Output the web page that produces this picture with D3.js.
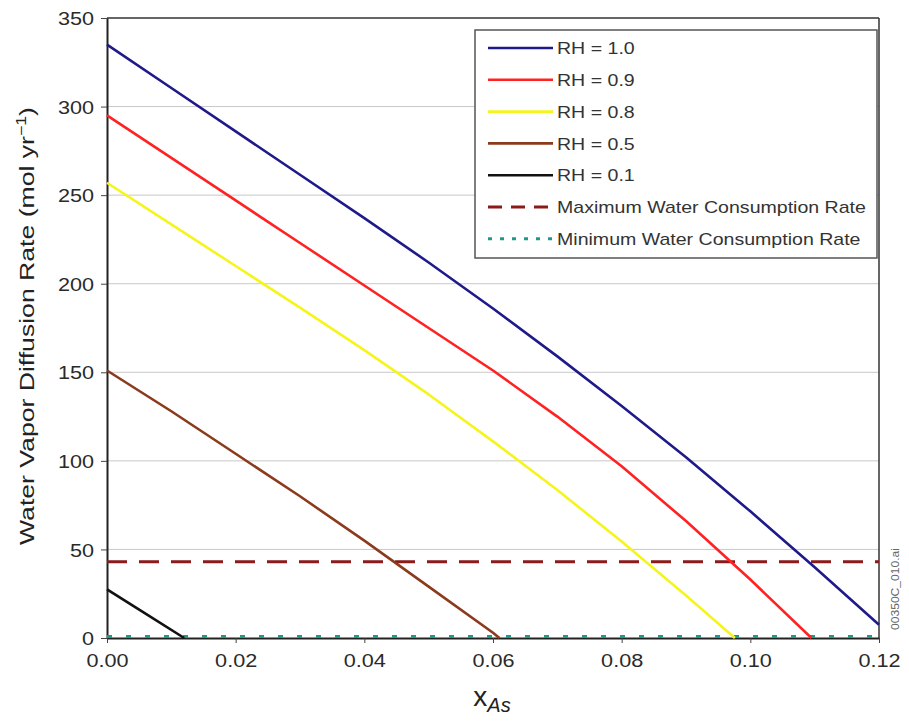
<!DOCTYPE html>
<html><head><meta charset="utf-8">
<script src="https://cdn.jsdelivr.net/npm/d3@7"></script>
<style>body{margin:0;background:#fff}svg{display:block;font-family:Arial,"Liberation Sans",sans-serif}</style>
</head><body><svg id="c" width="909" height="721"></svg>
<script>
const xTicks = [0, 0.02, 0.04, 0.06, 0.08, 0.10, 0.12];
const yTicks = [0, 50, 100, 150, 200, 250, 300, 350];
const xRH10 = [0, 0.01, 0.02, 0.03, 0.04, 0.05, 0.06, 0.07, 0.08, 0.09, 0.10, 0.11, 0.12];
const yRH10 = [335, 310.5, 286, 261.5, 237, 212, 186, 159, 131, 102, 71.5, 40, 7.5];
const xRH09 = [0, 0.01, 0.02, 0.03, 0.04, 0.05, 0.06, 0.07, 0.08, 0.09, 0.10, 0.1095];
const yRH09 = [295, 271, 247, 223, 199, 175, 151, 125, 97, 66, 33, 0];
const xRH08 = [0, 0.01, 0.02, 0.03, 0.04, 0.05, 0.06, 0.07, 0.08, 0.09, 0.0976];
const yRH08 = [257, 233.5, 210, 186.5, 162.5, 137.5, 111, 83.5, 54.5, 24, 0];
const xRH05 = [0, 0.01, 0.02, 0.03, 0.04, 0.05, 0.06, 0.061];
const yRH05 = [151, 128, 104, 80, 55, 29, 3, 0];
const xRH01 = [0, 0.005, 0.012];
const yRH01 = [27.5, 16, 0];
const maxRate = 43;
const minRate = 0.8;
const legendNames = ["RH = 1.0", "RH = 0.9", "RH = 0.8", "RH = 0.5", "RH = 0.1", "Maximum Water Consumption Rate", "Minimum Water Consumption Rate"];

const svg = d3.select("#c");
const L = 107, R = 879, T = 18, B = 638;
const x = d3.scaleLinear().domain([0, 0.12]).range([L, R]);
const y = d3.scaleLinear().domain([0, 350]).range([B, T]);
const stretch = (sel, k) => sel.each(function () {
  const w = this.getComputedTextLength();
  d3.select(this).attr("textLength", w * k).attr("lengthAdjust", "spacingAndGlyphs");
});

// gridlines
svg.append("g").selectAll("line").data(yTicks.filter(v => v > 0 && v < 350)).join("line")
  .attr("x1", L).attr("x2", R).attr("y1", d => y(d)).attr("y2", d => y(d))
  .attr("stroke", "#c8c8c8").attr("stroke-width", 1);

// frame top/right
svg.append("line").attr("x1", L).attr("x2", R).attr("y1", T).attr("y2", T).attr("stroke", "#333").attr("stroke-width", 1.5);
svg.append("line").attr("x1", R).attr("x2", R).attr("y1", T).attr("y2", B).attr("stroke", "#333").attr("stroke-width", 1.5);

// axes
const xa = svg.append("g").attr("transform", `translate(0,${B})`)
  .call(d3.axisBottom(x).tickValues(xTicks).tickFormat(d3.format(".2f")).tickSize(5).tickSizeOuter(0));
const ya = svg.append("g").attr("transform", `translate(${L},0)`)
  .call(d3.axisLeft(y).tickValues(yTicks).tickSize(6).tickSizeOuter(0));
[xa, ya].forEach(a => {
  a.select(".domain").attr("stroke", "#222").attr("stroke-width", 2);
  a.selectAll(".tick line").attr("stroke", "#444");
  a.selectAll("text").attr("font-size", 18.5).attr("fill", "#2a2a2a").attr("font-family", "Arial, 'Liberation Sans', sans-serif");
});
xa.selectAll("text").attr("y", 29).attr("dy", null);
ya.selectAll("text").attr("x", -13).attr("dy", "0.36em");
stretch(xa.selectAll("text"), 1.17);
stretch(ya.selectAll("text"), 1.17);

const line = d3.line().x(d => x(d[0])).y(d => y(d[1]));
const series = [
  {xs: xRH10, ys: yRH10, c: "#1f1a8a"},
  {xs: xRH09, ys: yRH09, c: "#ff2222"},
  {xs: xRH08, ys: yRH08, c: "#f5f51c"},
  {xs: xRH05, ys: yRH05, c: "#8c3a1c"},
  {xs: xRH01, ys: yRH01, c: "#111111"}
];

// min rate dotted
svg.append("path").attr("d", line([[0, minRate], [0.12, minRate]]))
  .attr("stroke", "#1e9a8a").attr("stroke-width", 3).attr("fill", "none").attr("stroke-dasharray", "5,14");
// max rate dashed
svg.append("path").attr("d", line([[0, maxRate], [0.12, maxRate]]))
  .attr("stroke", "#8b1a1a").attr("stroke-width", 3).attr("fill", "none").attr("stroke-dasharray", "20,12");

series.forEach(s => {
  svg.append("path").attr("d", line(s.xs.map((v, i) => [v, s.ys[i]])))
    .attr("stroke", s.c).attr("stroke-width", 2.6).attr("fill", "none").attr("stroke-linejoin", "round");
});

// legend
const lg = svg.append("g");
lg.append("rect").attr("x", 475).attr("y", 30).attr("width", 402).attr("height", 228)
  .attr("fill", "#fff").attr("stroke", "#555").attr("stroke-width", 1.5);
const styles = series.map(s => ({c: s.c, dash: null, w: 2.6}))
  .concat([{c: "#8b1a1a", dash: "14,9", w: 3}, {c: "#1e9a8a", dash: "4,8", w: 3}]);
legendNames.forEach((n, i) => {
  const yy = 48 + i * 31.8;
  const st = styles[i];
  const l = lg.append("line").attr("x1", 488).attr("x2", 553).attr("y1", yy).attr("y2", yy)
    .attr("stroke", st.c).attr("stroke-width", st.w);
  if (st.dash) l.attr("stroke-dasharray", st.dash);
  lg.append("text").attr("x", 557).attr("y", yy).attr("dy", "0.36em")
    .attr("font-size", 17).attr("fill", "#333").text(n);
});
stretch(lg.selectAll("text"), 1.15);

// y label
svg.append("text").attr("transform", "translate(34,326) rotate(-90)").attr("text-anchor", "middle")
  .attr("font-size", 21).attr("fill", "#222")
  .attr("textLength", 438).attr("lengthAdjust", "spacingAndGlyphs")
  .html('Water Vapor Diffusion Rate (mol yr<tspan dy="-8" font-size="14">−1</tspan><tspan dy="8">)</tspan>');

// x label
svg.append("text").attr("x", 492).attr("y", 706).attr("text-anchor", "middle")
  .attr("font-size", 28).attr("fill", "#222")
  .html('x<tspan dy="6" font-size="20" font-style="italic">As</tspan>');

// file tag
svg.append("text").attr("transform", "translate(899,630) rotate(-90)")
  .attr("font-size", 11).attr("fill", "#666")
  .attr("textLength", 82).attr("lengthAdjust", "spacingAndGlyphs").text("00350C_010.ai");
</script></body></html>
